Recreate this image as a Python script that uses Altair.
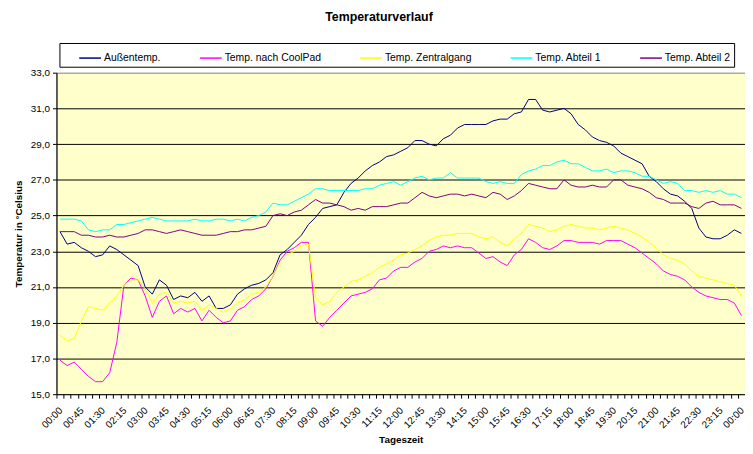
import json
import altair as alt
import pandas as pd

# Category labels (15-minute steps over one day)
TIMES = [f"{(i * 15 // 60) % 24:02d}:{(i * 15) % 60:02d}" for i in range(97)]

SERIES = ["Außentemp.", "Temp. nach CoolPad", "Temp. Zentralgang", "Temp. Abteil 1", "Temp. Abteil 2"]
COLORS = ["#000080", "#FF00FF", "#FFFF00", "#00FFFF", "#800080"]

AUSSEN = [
    24.1, 23.4, 23.5, 23.2, 23.0, 22.7, 22.8, 23.3, 23.1, 22.8,
    22.5, 22.2, 21.0, 20.6, 21.4, 21.1, 20.3, 20.5, 20.4, 20.7,
    20.2, 20.5, 19.8, 19.8, 20.0, 20.6, 20.9, 21.1, 21.2, 21.4,
    21.8, 22.8, 23.1, 23.5, 23.9, 24.5, 24.9, 25.4, 25.5, 25.6,
    26.3, 26.8, 27.1, 27.5, 27.8, 28.0, 28.3, 28.4, 28.6, 28.8,
    29.2, 29.2, 29.0, 28.9, 29.3, 29.5, 29.9, 30.1, 30.1, 30.1,
    30.1, 30.3, 30.4, 30.4, 30.7, 30.8, 31.5, 31.5, 30.9, 30.8,
    30.9, 31.0, 30.7, 30.1, 29.8, 29.4, 29.2, 29.1, 28.9, 28.5,
    28.3, 28.1, 27.9, 27.2, 26.9, 26.5, 26.2, 26.1, 25.8, 25.4,
    24.3, 23.8, 23.7, 23.7, 23.9, 24.2, 24.0,
]

COOLPAD = [
    16.9, 16.6, 16.8, 16.4, 16.0, 15.7, 15.7, 16.2, 17.9, 21.1,
    21.5, 21.4, 20.5, 19.3, 20.2, 20.5, 19.5, 19.8, 19.6, 19.8,
    19.1, 19.7, 19.3, 19.0, 19.1, 19.7, 19.9, 20.3, 20.5, 20.9,
    21.6, 22.5, 23.0, 23.2, 23.5, 23.5, 19.1, 18.8, 19.3, 19.7,
    20.1, 20.5, 20.6, 20.7, 20.9, 21.4, 21.5, 21.9, 22.1, 22.1,
    22.4, 22.6, 23.0, 23.1, 23.3, 23.2, 23.3, 23.2, 23.2, 22.9,
    22.6, 22.7, 22.4, 22.2, 22.8, 23.1, 23.7, 23.5, 23.2, 23.1,
    23.3, 23.6, 23.6, 23.5, 23.5, 23.5, 23.4, 23.6, 23.6, 23.6,
    23.4, 23.2, 22.9, 22.6, 22.3, 21.9, 21.7, 21.6, 21.4, 21.0,
    20.7, 20.5, 20.4, 20.3, 20.3, 20.1, 19.4,
]

ZENTRAL = [
    18.3, 18.0, 18.1, 19.1, 19.9, 19.8, 19.7, 20.1, 20.5, 21.1,
    21.4, 21.4, 20.9, 20.1, 20.6, 20.7, 20.1, 20.2, 20.1, 20.2,
    19.7, 20.0, 19.8, 19.6, 19.8, 20.1, 20.3, 20.6, 20.7, 21.0,
    21.6, 22.4, 22.8, 23.0, 23.3, 23.4, 20.4, 20.0, 20.2, 20.7,
    21.0, 21.3, 21.4, 21.6, 21.8, 22.1, 22.3, 22.5, 22.8, 22.9,
    23.1, 23.3, 23.6, 23.8, 23.9, 23.9, 24.0, 24.0, 24.0, 23.8,
    23.7, 23.8, 23.5, 23.3, 23.7, 24.0, 24.5, 24.4, 24.3, 24.1,
    24.2, 24.4, 24.5, 24.4, 24.3, 24.3, 24.2, 24.3, 24.4, 24.3,
    24.2, 24.0, 23.8, 23.5, 23.2, 22.8, 22.6, 22.5, 22.3, 21.9,
    21.6, 21.5, 21.4, 21.3, 21.2, 21.1, 20.5,
]

ABTEIL1 = [
    24.8, 24.8, 24.8, 24.7, 24.2, 24.1, 24.2, 24.2, 24.5, 24.5,
    24.6, 24.7, 24.8, 24.9, 24.8, 24.7, 24.7, 24.7, 24.7, 24.8,
    24.7, 24.7, 24.8, 24.8, 24.7, 24.8, 24.7, 24.9, 25.0, 25.2,
    25.7, 25.6, 25.6, 25.8, 26.0, 26.2, 26.5, 26.5, 26.4, 26.4,
    26.4, 26.4, 26.4, 26.5, 26.5, 26.7, 26.8, 26.9, 26.7, 26.9,
    27.1, 27.2, 27.0, 27.1, 27.1, 27.4, 27.1, 27.1, 27.1, 27.1,
    26.9, 26.8, 26.9, 26.8, 26.8, 27.3, 27.5, 27.6, 27.8, 27.8,
    28.0, 28.1, 27.9, 27.9, 27.7, 27.5, 27.5, 27.6, 27.4, 27.5,
    27.5, 27.4, 27.2, 27.2, 27.0, 26.8, 26.9, 26.8, 26.4, 26.4,
    26.3, 26.4, 26.3, 26.4, 26.2, 26.2, 26.0,
]

ABTEIL2 = [
    24.1, 24.1, 24.1, 23.9, 23.9, 23.8, 23.8, 23.9, 23.8, 23.8,
    23.9, 24.0, 24.2, 24.2, 24.1, 24.0, 24.1, 24.2, 24.1, 24.0,
    23.9, 23.9, 23.9, 24.0, 24.1, 24.1, 24.2, 24.2, 24.3, 24.4,
    25.0, 25.1, 25.0, 25.2, 25.3, 25.6, 25.9, 25.7, 25.7, 25.6,
    25.5, 25.3, 25.4, 25.3, 25.5, 25.5, 25.5, 25.6, 25.7, 25.7,
    26.0, 26.3, 26.1, 26.0, 26.1, 26.2, 26.2, 26.1, 26.2, 26.1,
    26.0, 26.3, 26.2, 25.9, 26.1, 26.4, 26.8, 26.7, 26.6, 26.5,
    26.5, 27.0, 26.7, 26.6, 26.6, 26.7, 26.6, 26.6, 27.0, 27.0,
    26.7, 26.6, 26.5, 26.3, 26.0, 25.9, 25.7, 25.7, 25.7, 25.5,
    25.4, 25.7, 25.8, 25.6, 25.6, 25.6, 25.4,
]

Y_TICKS = [15, 17, 19, 21, 23, 25, 27, 29, 31, 33]

rows = []
for name, vals in zip(SERIES, [AUSSEN, COOLPAD, ZENTRAL, ABTEIL1, ABTEIL2]):
    for i, v in enumerate(vals):
        rows.append({"idx": i, "zeit": TIMES[i], "serie": name, "wert": v})
df = pd.DataFrame(rows)

label_expr = "datum.value % 3 == 0 ? " + json.dumps(TIMES) + "[datum.value] : ''"

FONT = "Liberation Sans"

chart = (
    alt.Chart(df)
    .mark_line(strokeWidth=1)
    .encode(
        x=alt.X(
            "idx:O",
            scale=alt.Scale(type="band", paddingInner=0, paddingOuter=0),
            axis=alt.Axis(
                title="Tageszeit",
                labelExpr=label_expr,
                labelAngle=-45,
                labelAlign="right",
                labelBaseline="top",
                labelOverlap=False,
                labelPadding=7,
                labelOffset=-3,
                labelFontSize=10,
                tickBand="extent",
                tickSize=4,
                grid=False,
                titlePadding=5,
            ),
        ),
        y=alt.Y(
            "wert:Q",
            scale=alt.Scale(domain=[15, 33], nice=False, zero=False),
            axis=alt.Axis(
                title="Temperatur in °Celsius",
                values=Y_TICKS,
                labelExpr="replace(format(datum.value, '.1f'), '.', ',')",
                tickSize=4,
                labelPadding=3,
                labelFontSize=10,
                titlePadding=7,
                grid=True,
                gridColor={
                    "condition": {"test": "datum.value >= 33 || datum.value <= 15", "value": "transparent"},
                    "value": "#000000",
                },
                gridWidth=1,
            ),
        ),
        color=alt.Color(
            "serie:N",
            scale=alt.Scale(domain=SERIES, range=COLORS),
            legend=alt.Legend(
                title=None,
                orient="none",
                legendX=3,
                legendY=-30,
                direction="horizontal",
                columns=5,
                symbolType="stroke",
                symbolSize=484,
                symbolStrokeWidth=1.5,
                symbolOffset=16,
                labelOffset=2,
                columnPadding=22,
                padding=3,
                strokeColor="#000000",
                fillColor="#FFFFFF",
                labelFont=FONT,
                labelFontSize=10.5,
                labelColor="#000000",
                labelLimit=300,
            ),
        ),
    )
    .properties(
        width=696,
        height=325,
        title=alt.TitleParams(
            "Temperaturverlauf",
            font=FONT,
            fontSize=12.5,
            fontWeight="bold",
            color="#000000",
            anchor="middle",
            dx=-22,
            offset=19,
        ),
        autosize=alt.AutoSizeParams(type="none"),
        padding={"left": 49, "top": 63, "right": 0, "bottom": 50},
        background="#FFFFFF",
    )
    .configure_view(fill="#FFFFCC", stroke="#808080", strokeWidth=1)
    .configure_axis(
        domainColor="#000000",
        tickColor="#000000",
        labelColor="#000000",
        titleColor="#000000",
        labelFont=FONT,
        titleFont=FONT,
        titleFontSize=10,
        titleFontWeight="bold",
    )
)

chart.save("out.html", embed_options={"renderer": "svg", "actions": False})
